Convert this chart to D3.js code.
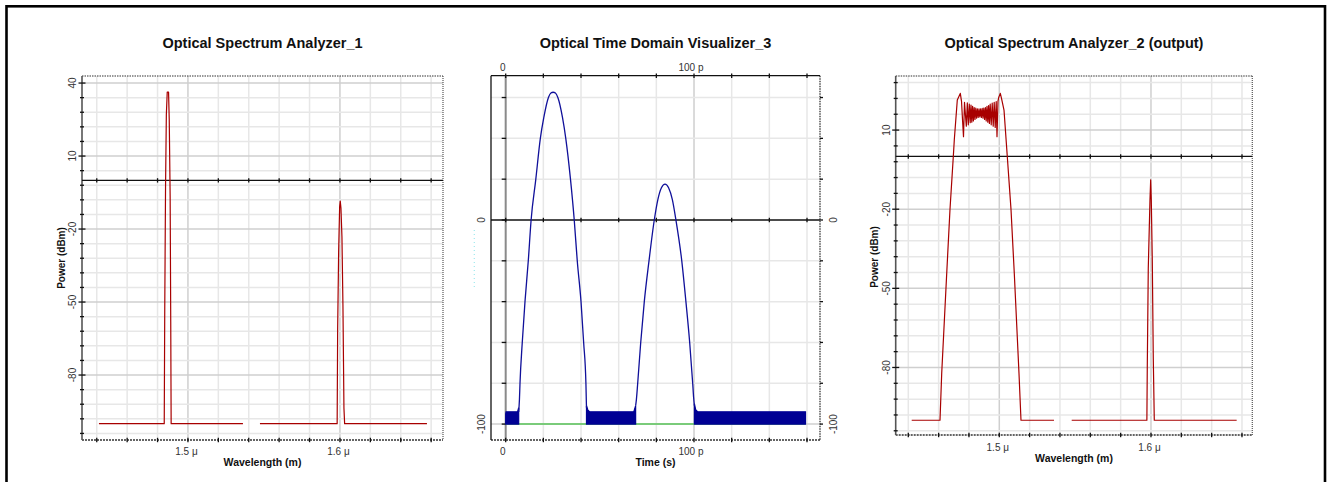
<!DOCTYPE html>
<html><head><meta charset="utf-8">
<script src="https://cdn.jsdelivr.net/npm/d3@7"></script>
<style>
html,body{margin:0;padding:0;background:#fff;}
svg{display:block;font-family:"Liberation Sans",Arial,sans-serif;}
</style></head><body>
<svg id="chart" width="1332" height="482"></svg>
<script>
// ---------------- DATA ----------------
// Spectrum analyzers: wavelength in nm, power in dBm (null = gap in trace)
const osa1Wavelength = [1441.45, 1484.41, 1484.74, 1485.26, 1485.79, 1486.38, 1487.24, 1487.70, 1488.29, 1488.68, 1488.95, 1536.18, null,
  1547.37, 1598.16, 1598.49, 1599.14, 1599.80, 1600.20, 1600.66, 1601.32, 1601.97, 1602.63, 1603.09, 1657.24];
const osa1Power = [-100, -100, -53, -3, 27, 36.3, 36.3, 25, -6.5, -58, -100, -100, null,
  -100, -100, -61.5, -29.5, -10.8, -8.5, -11.4, -23.3, -51.2, -93.6, -100, -100];

const osa2Wavelength = [1442.25, 1460.91, 1462.03, 1465.33, 1467.50, 1469.68, 1470.34, 1472.31, 1474.29, 1475.08, 1475.74, 1476.40,
  1477.06, 1478.25, 1478.91, 1479.56, 1480.22, 1480.82, 1481.34, 1481.87, 1482.40, 1482.93, 1483.45, 1483.98, 1484.51,
  1485.04, 1485.56, 1486.09, 1486.62, 1487.15, 1487.67, 1488.20, 1488.73, 1489.25, 1489.78, 1490.31, 1490.84, 1491.36,
  1491.89, 1492.42, 1492.95, 1493.47, 1494.00, 1494.66, 1495.32, 1495.98, 1496.64, 1497.30, 1497.96, 1498.48, 1499.14,
  1499.67, 1500.66, 1501.45, 1503.10, 1505.27, 1507.71, 1509.89, 1512.99, 1514.30, 1536.06, null,
  1547.73, 1597.30, 1597.56, 1598.22, 1599.34, 1599.80, 1600.20, 1600.86, 1601.52, 1602.18, 1656.49];
const osa2Power = [-100, -100, -82.3, -44.4, -20, 0, 6.3, 21.4, 23.9, 21, 14, 7.5,
  20.5, 11.5, 20.3, 12, 19.8, 12.8, 19.5, 13, 19, 13.5, 18.5, 14, 18.3,
  14.5, 18, 14.8, 18, 15, 18, 14.8, 18.2, 14.5, 18.3, 14, 18.5, 13.5,
  19, 13, 19.3, 12.5, 19.8, 12, 20.2, 11.5, 20.5, 11, 20.8, 7.5, 21,
  22.5, 23.9, 22, 17.6, 0, -20, -44.4, -82.3, -100, -100, null,
  -100, -100, -80, -42.4, -16.5, -8.9, -16.3, -39.3, -76.6, -100, -100];

// Spectrum axes ticks / grid
const specGridWavelengths = [1440, 1460, 1480, 1500, 1520, 1540, 1560, 1580, 1600, 1620, 1640, 1660];
const specTickWavelengths = [1500, 1600];
const specTickLabels = ["1.5 \u03bc", "1.6 \u03bc"];
const osa1PowerGrid = [40, 34, 28, 22, 16, 10, 4, -2, -8, -14, -20, -26, -32, -38, -44, -50, -56, -62, -68, -74, -80, -86, -92, -98, -104];
const osa1PowerTicks = [40, 10, -20, -50, -80];
const osa2PowerGrid = [28, 22, 16, 10, 4, -2, -8, -14, -20, -26, -32, -38, -44, -50, -56, -62, -68, -74, -80, -86, -92, -98, -104];
const osa2PowerTicks = [10, -20, -50, -80];

// Time domain visualizer: time in ps, power in dBm
const pulseTime = [6.9, 7.3, 7.6, 8.8, 10.25, 12.0, 13.5, 16.0, 18.4, 20.2, 22.7, 24.0, 25.2, 26.4, 27.7, 30.2, 31.9, 34.4, 36.4, 38.0, 40.0, 41.4, 42.6, 42.9, null,
  69.0, 69.4, 70.1, 71.7, 73.6, 76.1, 78.9, 80.8, 82.7, 84.6, 86.5, 88.5, 90.4, 93.5, 95.7, 97.7, 99.3, 99.8, 100.2];
const pulsePower = [-94, -88, -80, -60, -40, -20, 0, 20, 40, 50, 60, 62.2, 62.6, 62.2, 60, 50, 40, 20, 0, -20, -40, -60, -80, -92, null,
  -91, -88, -80, -60, -40, -20, 0, 10, 15.8, 17.6, 15.8, 10, 0, -20, -40, -60, -80, -87, -91];
const noiseTime = [0, 0.2, 6.3, 6.9, null, 42.9, 43.6, 44.6, 68.0, 69.0, null, 100.2, 100.9, 102.0, 159.2];
const noiseTop = [-95, -94, -94, -92, null, -91, -93, -94, -94, -91, null, -90, -93, -94, -94];
const referenceTime = [0, 159.2];
const referencePower = [-100, -100];

const timeGrid = [0, 20, 40, 60, 80, 100, 120, 140, 160];
const timeTicks = [0, 100];
const timeTickLabels = ["0", "100 p"];
const timePowerGrid = [60, 40, 20, 0, -20, -40, -60, -80, -100];
const timePowerTicks = [0, -100];
const timePowerTickLabels = ["0", "-100"];

// ---------------- DRAWING ----------------
const svg = d3.select("#chart");

svg.append("rect").attr("x", 6.5).attr("y", 6.3).attr("width", 1318.5).attr("height", 600)
  .attr("fill", "none").attr("stroke", "#000").attr("stroke-width", 2.6);

function hLine(g, x1, x2, yy, stroke, w, dash) {
  const l = g.append("line").attr("x1", x1).attr("x2", x2).attr("y1", yy).attr("y2", yy)
    .attr("stroke", stroke).attr("stroke-width", w);
  if (dash) l.attr("stroke-dasharray", dash);
  return l;
}
function vLine(g, xx, y1, y2, stroke, w, dash) {
  const l = g.append("line").attr("x1", xx).attr("x2", xx).attr("y1", y1).attr("y2", y2)
    .attr("stroke", stroke).attr("stroke-width", w);
  if (dash) l.attr("stroke-dasharray", dash);
  return l;
}
function rotText(g, xx, yy, txt, size, weight, fill) {
  return g.append("text").attr("transform", `translate(${xx},${yy}) rotate(-90)`)
    .attr("text-anchor", "middle").attr("font-size", size).attr("font-weight", weight || "normal")
    .attr("fill", fill || "#222").text(txt);
}
function text(g, xx, yy, txt, size, weight, fill) {
  return g.append("text").attr("x", xx).attr("y", yy).attr("text-anchor", "middle")
    .attr("font-size", size).attr("font-weight", weight || "normal").attr("fill", fill || "#222").text(txt);
}

function spectrumPanel(o) {
  const g = svg.append("g");
  const x = d3.scaleLinear().domain(o.xDomain).range([o.left, o.right]);
  const y = d3.scaleLinear().domain(o.yDomain).range([o.bottom, o.top]);

  // grid
  g.selectAll(null).data(specGridWavelengths).join("line")
    .attr("x1", d => x(d)).attr("x2", d => x(d)).attr("y1", o.top).attr("y2", o.bottom)
    .attr("stroke", d => specTickWavelengths.includes(d) ? "#cfcfcf" : "#e7e7e7").attr("stroke-width", 1.5);
  g.selectAll(null).data(o.yGrid).join("line")
    .attr("x1", o.left).attr("x2", o.right).attr("y1", d => y(d)).attr("y2", d => y(d))
    .attr("stroke", d => o.yTicks.includes(d) ? "#cfcfcf" : "#e7e7e7").attr("stroke-width", 1.5);

  // frame
  hLine(g, o.left, o.right, o.top, "#333", 1.2, "1.5,1");
  hLine(g, o.left, o.right, o.bottom, "#333", 1.4, "2,1");
  vLine(g, o.right, o.top, o.bottom, "#555", 1.2, "1,1");
  vLine(g, o.left, o.top, o.bottom, "#555", 1.6);

  // zero line
  hLine(g, o.left, o.right, y(0), "#111", 1.3);

  // ticks on zero line and bottom
  [y(0), o.bottom].forEach(yy => {
    g.selectAll(null).data(specGridWavelengths).join("line")
      .attr("x1", d => x(d)).attr("x2", d => x(d)).attr("y1", yy - 2.2).attr("y2", yy + 2.2)
      .attr("stroke", "#111").attr("stroke-width", 1.3);
  });
  // ticks on left axis
  g.selectAll(null).data(o.yGrid).join("line")
    .attr("x1", d => o.left - (o.yTicks.includes(d) ? 3.5 : 2)).attr("x2", d => o.left + (o.yTicks.includes(d) ? 3.5 : 2))
    .attr("y1", d => y(d)).attr("y2", d => y(d)).attr("stroke", "#111").attr("stroke-width", 1.3);

  // data
  const idx = d3.range(o.wl.length);
  const line = d3.line().defined(i => o.pw[i] != null).x(i => x(o.wl[i])).y(i => y(o.pw[i]));
  g.append("path").attr("d", line(idx)).attr("fill", "none").attr("stroke", "#a80000")
    .attr("stroke-width", 1.2).attr("stroke-linejoin", "round");

  // labels
  specTickWavelengths.forEach((v, i) => text(g, x(v) - 1.5, o.xLabelY, specTickLabels[i], 10, "normal", "#333"));
  o.yTicks.forEach(v => rotText(g, o.yLabelX, y(v), String(v), 10, "normal", "#333"));
  text(g, (o.left + o.right) / 2, o.xTitleY, "Wavelength (m)", 10.5, "bold", "#111");
  rotText(g, o.yTitleX, o.yTitleY, "Power (dBm)", 10, "bold", "#111");
  text(g, (o.left + o.right) / 2, 48, o.title, 14.5, "bold", "#111");
}

spectrumPanel({
  left: 82, right: 443, top: 76, bottom: 440,
  xDomain: [1430.3, 1667.8], yDomain: [-106.7, 42.9],
  yGrid: osa1PowerGrid, yTicks: osa1PowerTicks,
  wl: osa1Wavelength, pw: osa1Power,
  title: "Optical Spectrum Analyzer_1",
  xLabelY: 454.5, xTitleY: 465.5, yLabelX: 76, yTitleX: 64.5, yTitleY: 258
});

spectrumPanel({
  left: 895.7, right: 1252.3, top: 76, bottom: 435,
  xDomain: [1431.7, 1666.8], yDomain: [-105.6, 30.5],
  yGrid: osa2PowerGrid, yTicks: osa2PowerTicks,
  wl: osa2Wavelength, pw: osa2Power,
  title: "Optical Spectrum Analyzer_2 (output)",
  xLabelY: 450.5, xTitleY: 462, yLabelX: 890, yTitleX: 878, yTitleY: 257
});

// ---- Time domain panel ----
(function () {
  const L = 491, R = 820, T = 75.7, B = 440;
  const g = svg.append("g");
  const x = d3.scaleLinear().domain([-7.8, 166.9]).range([L, R]);
  const y = d3.scaleLinear().domain([-107.8, 70.7]).range([B, T]);

  // grid
  g.selectAll(null).data(timeGrid.filter(d => d !== 0)).join("line")
    .attr("x1", d => x(d)).attr("x2", d => x(d)).attr("y1", T).attr("y2", B)
    .attr("stroke", d => timeTicks.includes(d) ? "#cfcfcf" : "#e7e7e7").attr("stroke-width", 1.5);
  g.selectAll(null).data(timePowerGrid.filter(d => d !== 0)).join("line")
    .attr("x1", L).attr("x2", R).attr("y1", d => y(d)).attr("y2", d => y(d))
    .attr("stroke", d => timePowerTicks.includes(d) ? "#cfcfcf" : "#e7e7e7").attr("stroke-width", 1.5);

  // frame
  hLine(g, L, R, T, "#111", 1.3);
  hLine(g, L, R, B, "#333", 1.4, "2,1");
  vLine(g, L, T, B, "#111", 1.3);
  vLine(g, R, T, B, "#333", 1.3, "1.5,1");

  // axes lines
  vLine(g, x(0), T, B, "#8a8a8a", 2);
  hLine(g, L, R, y(0), "#111", 1.3);

  // ticks
  g.selectAll(null).data(timePowerGrid).join("line")
    .attr("x1", x(0) - 4).attr("x2", x(0) + 0.5).attr("y1", d => y(d)).attr("y2", d => y(d))
    .attr("stroke", "#111").attr("stroke-width", 1.3);
  g.selectAll(null).data(timePowerGrid).join("line")
    .attr("x1", R).attr("x2", R + 3).attr("y1", d => y(d)).attr("y2", d => y(d))
    .attr("stroke", "#111").attr("stroke-width", 1.3);
  [T, y(0), B].forEach(yy => {
    g.selectAll(null).data(timeGrid).join("line")
      .attr("x1", d => x(d)).attr("x2", d => x(d)).attr("y1", yy - 2.2).attr("y2", yy + 2.2)
      .attr("stroke", "#111").attr("stroke-width", 1.3);
  });

  // reference (green) trace
  const ri = d3.range(referenceTime.length);
  g.append("path").attr("d", d3.line().x(i => x(referenceTime[i])).y(i => y(referencePower[i]))(ri))
    .attr("fill", "none").attr("stroke", "#7acb7a").attr("stroke-width", 2);

  // noise floor band
  const ni = d3.range(noiseTime.length);
  const area = d3.area().defined(i => noiseTop[i] != null)
    .x(i => x(noiseTime[i])).y0(y(-100)).y1(i => y(noiseTop[i]));
  g.append("path").attr("d", area(ni)).attr("fill", "#000094").attr("stroke", "#000094").attr("stroke-width", 1.2);

  // pulses
  const pi = d3.range(pulseTime.length);
  const line = d3.line().defined(i => pulsePower[i] != null)
    .x(i => x(pulseTime[i])).y(i => y(pulsePower[i])).curve(d3.curveMonotoneX);
  g.append("path").attr("d", line(pi)).attr("fill", "none").attr("stroke", "#10109a").attr("stroke-width", 1.3);

  // faint cyan left-axis marker
  vLine(g, 474.3, 230, 287, "#9fe9ee", 1.2, "1,3");

  // labels
  timeTicks.forEach((v, i) => {
    text(g, x(v) - 3, 70.5, timeTickLabels[i], 10, "normal", "#333");
    text(g, x(v) - 3, 454.5, timeTickLabels[i], 10, "normal", "#333");
  });
  timePowerTicks.forEach((v, i) => {
    rotText(g, 485, y(v), timePowerTickLabels[i], 10, "normal", "#333");
    rotText(g, 837, y(v), timePowerTickLabels[i], 10, "normal", "#333");
  });
  text(g, (L + R) / 2, 465.5, "Time (s)", 10.5, "bold", "#111");
  text(g, (L + R) / 2, 48, "Optical Time Domain Visualizer_3", 14.5, "bold", "#111");
})();
</script>
</body></html>
